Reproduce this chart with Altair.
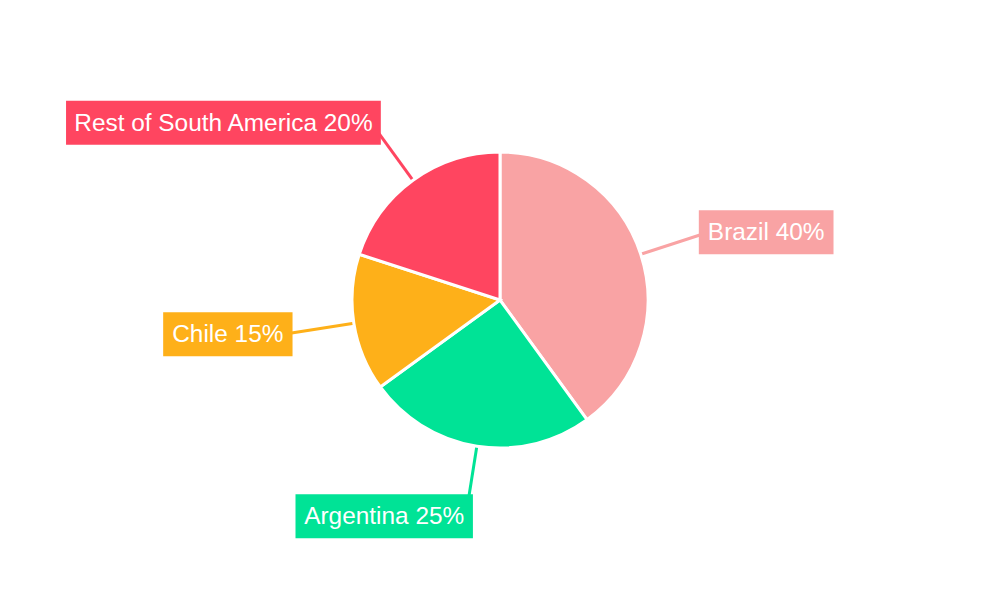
import math
import altair as alt
import pandas as pd

# ---- data ----
regions = ["Brazil", "Argentina", "Chile", "Rest of South America"]
shares = [40, 25, 15, 20]
colors = ["#F9A3A4", "#00E396", "#FEB019", "#FF4560"]

# ---- layout constants ----
W, H = 984, 584
CX, CY = W / 2, H / 2
R = 148
R_LABEL = 211
FONT = 24
TEXT_SIZE = 24.4
PAD = 10
BOX_H = 44

# Arial / Liberation Sans advance widths (1/1000 em)
CW = {
    " ": 278, "%": 889, "0": 556, "1": 556, "2": 556, "4": 556, "5": 556,
    "A": 667, "B": 667, "C": 722, "R": 722, "S": 667,
    "a": 556, "c": 500, "e": 556, "f": 278, "g": 556, "h": 556, "i": 222,
    "l": 222, "m": 833, "n": 556, "o": 556, "r": 333, "s": 500, "t": 278,
    "u": 556, "z": 500,
}


def text_width(s):
    return sum(CW.get(ch, 556) for ch in s) / 1000 * FONT


total = sum(shares)
rows = []
cum = 0
for i, (name, v) in enumerate(zip(regions, shares)):
    mid = (cum + v / 2) / total * 2 * math.pi
    cum += v
    sx, cx_ = math.sin(mid), math.cos(mid)
    x0, y0 = CX + R * sx, CY - R * cx_
    x1, y1 = CX + R_LABEL * sx, CY - R_LABEL * cx_
    label = f"{name} {v}%"
    bw = text_width(label) + 2 * PAD
    ax = x1 - math.copysign(6 * abs(cx_), sx)
    if sx >= 0:
        bl, br = ax, ax + bw
    else:
        bl, br = ax - bw, ax
    bc = y1 - 8 * cx_
    rows.append(dict(
        region=name, share=v, order=i, label=label,
        x0=x0, y0=y0, x1=x1, y1=y1,
        bl=bl, br=br, bt=bc - BOX_H / 2, bb=bc + BOX_H / 2,
        tx=(bl + br) / 2, ty=bc,
    ))

df = pd.DataFrame(rows)

xs = alt.Scale(domain=[0, W], range=[0, W], nice=False, zero=False)
ys = alt.Scale(domain=[0, H], range=[0, H], nice=False, zero=False)
color = alt.Color("region:N", scale=alt.Scale(domain=regions, range=colors), legend=None)

base = alt.Chart(df)

pie = base.mark_arc(outerRadius=R, stroke="white", strokeWidth=3).encode(
    theta=alt.Theta("share:Q", stack=True),
    order=alt.Order("order:Q"),
    color=color,
)

lines = base.mark_rule(strokeWidth=3).encode(
    x=alt.X("x0:Q", scale=xs, axis=None),
    y=alt.Y("y0:Q", scale=ys, axis=None),
    x2="x1:Q",
    y2="y1:Q",
    color=color,
)

boxes = base.mark_rect().encode(
    x=alt.X("bl:Q", scale=xs, axis=None),
    x2="br:Q",
    y=alt.Y("bt:Q", scale=ys, axis=None),
    y2="bb:Q",
    color=color,
)

texts = base.mark_text(
    font="Liberation Sans", fontSize=TEXT_SIZE, color="white",
    align="center", baseline="alphabetic", dy=8,
).encode(
    x=alt.X("tx:Q", scale=xs, axis=None),
    y=alt.Y("ty:Q", scale=ys, axis=None),
    text="label:N",
)

chart = alt.layer(lines, pie, boxes, texts).properties(
    width=W, height=H, padding=0, autosize=alt.AutoSizeParams(type="none"),
    background="white",
).configure_view(stroke=None, strokeWidth=0)

chart.save("out.html", embed_options={"renderer": "svg", "actions": False})
